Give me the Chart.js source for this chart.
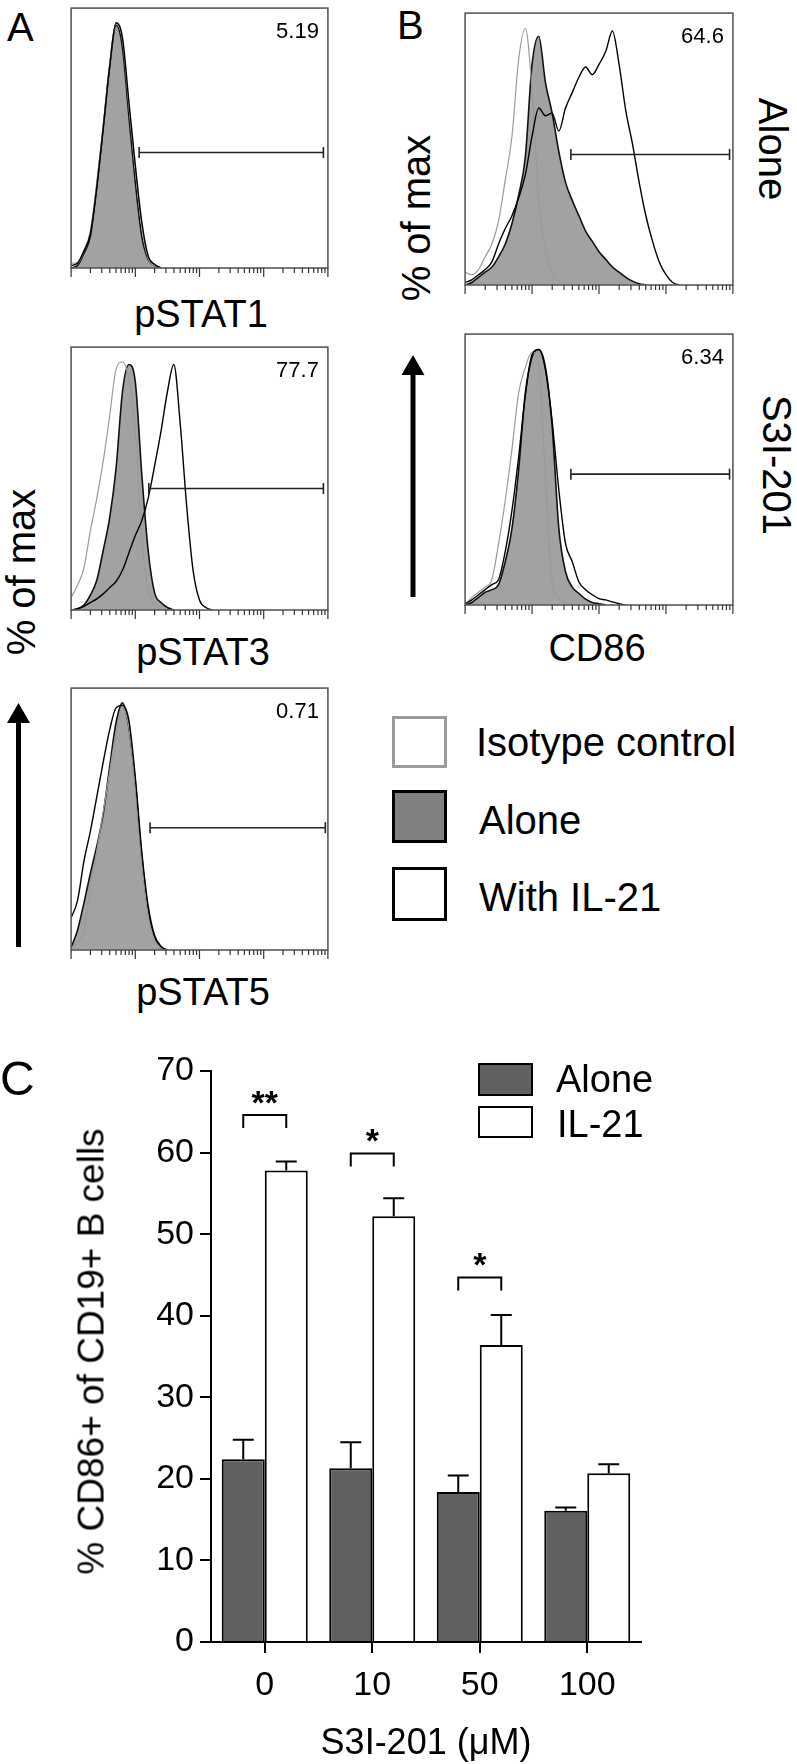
<!DOCTYPE html>
<html>
<head>
<meta charset="utf-8">
<script src="https://cdn.jsdelivr.net/npm/chart.js@4.4.1/dist/chart.umd.min.js"></script>
<style>
body { margin: 0; background: #fff; }
#fig { position: relative; width: 797px; height: 1764px; overflow: hidden; font-family: 'Liberation Sans', Arial, sans-serif; }
#fig canvas { position: absolute; }
.t { position: absolute; line-height: 1; white-space: nowrap; color: #000; }
.c { width: 400px; text-align: center; }
.sw { position: absolute; box-sizing: border-box; }
</style>
</head>
<body>
<div id="fig">
  <svg style="position:absolute;left:0;top:0" width="797" height="1764">
    <line x1="18.5" y1="947" x2="18.5" y2="718" stroke="#000" stroke-width="5"/>
    <polygon points="18.5,703 7,723 30,723" fill="#000"/>
    <line x1="413" y1="597" x2="413" y2="370" stroke="#000" stroke-width="5"/>
    <polygon points="413,355 401.5,375 424.5,375" fill="#000"/>
  </svg>

  <canvas id="a1"></canvas>
  <canvas id="a2"></canvas>
  <canvas id="a3"></canvas>
  <canvas id="b1"></canvas>
  <canvas id="b2"></canvas>
  <canvas id="barC" width="797" height="724" style="left:0;top:1040px"></canvas>

  <div class="t" style="left:7px;top:7px;font-size:40px">A</div>
  <div class="t" style="left:397px;top:5px;font-size:40px">B</div>
  <div class="t" style="left:0;top:1055px;font-size:48px">C</div>

  <div class="t c" style="left:1px;top:295px;font-size:38px">pSTAT1</div>
  <div class="t c" style="left:3px;top:633px;font-size:38px">pSTAT3</div>
  <div class="t c" style="left:3px;top:973px;font-size:38px">pSTAT5</div>
  <div class="t c" style="left:397px;top:629px;font-size:38px">CD86</div>

  <div class="t c" style="left:-179px;top:552px;font-size:40px;transform:rotate(-90deg)">% of max</div>
  <div class="t c" style="left:216px;top:198px;font-size:40px;transform:rotate(-90deg)">% of max</div>
  <div class="t c" style="left:573px;top:129px;font-size:40px;transform:rotate(90deg)">Alone</div>
  <div class="t c" style="left:577px;top:445px;font-size:40px;transform:rotate(90deg)">S3I-201</div>

  <div class="sw" style="left:392px;top:716px;width:55px;height:52px;border:3px solid #9a9a9a;background:#fff"></div>
  <div class="sw" style="left:392px;top:790px;width:55px;height:53px;border:3px solid #000;background:#808080"></div>
  <div class="sw" style="left:392px;top:867px;width:55px;height:54px;border:3px solid #000;background:#fff"></div>
  <div class="t" style="left:476px;top:722px;font-size:40px">Isotype control</div>
  <div class="t" style="left:479px;top:800px;font-size:40px">Alone</div>
  <div class="t" style="left:479px;top:877px;font-size:40px">With IL-21</div>

  <div class="sw" style="left:478px;top:1063px;width:55px;height:33px;border:2px solid #000;background:#606060"></div>
  <div class="sw" style="left:478px;top:1106px;width:55px;height:32px;border:2px solid #000;background:#fff"></div>
  <div class="t" style="left:556px;top:1060px;font-size:38px">Alone</div>
  <div class="t" style="left:557px;top:1105px;font-size:38px">IL-21</div>

  <div class="t" style="left:-209px;width:600px;text-align:center;top:1333px;font-size:37px;transform:rotate(-90deg)">% CD86+ of CD19+ B cells</div>
  <div class="t c" style="left:226px;top:1724px;font-size:36px">S3I-201 (μM)</div>
</div>

<script>
Chart.defaults.font.family = '"Liberation Sans", Arial, sans-serif';

// histogram bins, in log decades
const BINS = [0, 0.1, 0.2, 0.3, 0.4, 0.5, 0.6, 0.7, 0.8, 0.9, 1.0, 1.1, 1.2, 1.3, 1.4, 1.5, 1.6,
              1.7, 1.8, 1.9, 2.0, 2.1, 2.2, 2.3, 2.4, 2.5, 2.6, 2.7, 2.8, 2.9, 3.0, 3.1, 3.2];

// A: pSTAT1
const iso1   = [2, 2, 7, 15, 35, 58, 83, 100, 93, 66, 40, 17, 4, 1, 0];
const alone1 = [0, 1, 6, 13, 33, 57, 82, 99, 90, 62, 35, 13, 3.5, 1, 0];
const il21_1 = [1, 2, 7, 14, 33, 57, 82, 100, 94, 68, 42, 19, 5, 1.5, 0];
// A: pSTAT3
const iso3   = [5, 10, 17, 32, 45, 60, 78, 97, 100, 93, 72, 30, 8, 2, 0];
const alone3 = [0, 0.5, 2, 6, 12, 24, 37, 57, 88, 99, 92, 55, 24, 7, 3, 1, 0];
const il21_3 = [0, 0.5, 1.5, 3, 4.5, 6.5, 9, 11.5, 16, 23, 30, 36, 45, 58, 72, 88, 99, 75, 42, 16, 4, 1, 0];
// A: pSTAT5
const iso5   = [1, 3, 8, 25, 40, 56, 72, 88, 98, 90, 66, 36, 14, 4, 1, 0];
const alone5 = [1, 8, 19, 31, 42, 55, 74, 92, 100, 90, 68, 38, 16, 5, 1, 0];
const il21_5 = [13, 20, 36, 48, 62, 76, 89, 98, 99, 93, 70, 40, 18, 6, 1.5, 0];
// B: CD86, alone
const isoB1   = [5, 4, 6, 11, 16, 25, 41, 58, 88, 100, 76, 33, 13, 4, 1.5, 0];
const aloneB1 = [0, 1, 3, 5, 7, 11, 16, 24, 35, 50, 86, 97, 79, 67, 52, 40, 33, 27, 21, 17, 13, 10, 7, 5, 3, 1.5, 0.5, 0];
const il21B1  = [1, 2, 4, 6, 9, 16, 22, 27, 34, 43, 58, 69, 66, 67, 60, 69, 75, 81, 85, 82, 86, 91, 99, 86, 68, 55, 40, 27, 17, 9, 4, 1, 0];
// B: CD86, S3I-201
const isoB2   = [0, 3, 5, 7, 10, 24, 41, 61, 83, 93, 99, 94, 50, 9, 3, 1, 0];
const aloneB2 = [0, 1, 3, 5, 6, 8, 17, 30, 53, 83, 97, 100, 93, 70, 30, 13, 7, 4.5, 2.3, 1, 0.5, 0];
const il21B2  = [0.5, 2, 4, 6, 8, 10, 21, 37, 58, 82, 98, 100, 92, 72, 45, 24, 17, 9, 6, 4, 2.5, 2, 1.2, 0.5, 0];

// gates: a1, a2, a3, b1, b2
const gateText  = ['5.19', '77.7', '0.71', '64.6', '6.34'];
const gateFrom  = [1.06, 1.21, 1.23, 1.58, 1.58];
const gateTo    = [3.93, 3.93, 3.96, 3.95, 3.95];
const gateLevel = [47.1, 49, 49.5, 50.9, 51.2];

// C: bar chart
const doses     = ['0', '10', '50', '100'];
const aloneMean = [22.4, 21.3, 18.4, 16.1];
const aloneSem  = [2.4, 3.2, 2.0, 0.4];
const il21Mean  = [57.8, 52.2, 36.4, 20.7];
const il21Sem   = [1.1, 2.2, 3.7, 1.1];
const sigMarks  = ['**', '*', '*', ''];
const sigLevel  = [64.6, 59.9, 44.7, null];

const pts = vals => vals.map((v, i) => ({ x: BINS[i], y: v }));

// frame, log ticks and gate % for the flow plots
const flowFrame = {
  id: 'flowFrame',
  afterDraw(chart, args, opts) {
    const { ctx, chartArea: a, scales: { x } } = chart;
    ctx.save();
    ctx.strokeStyle = '#5a5a5a';
    ctx.lineWidth = 1.6;
    ctx.strokeRect(a.left, a.top, a.right - a.left, a.bottom - a.top);
    ctx.strokeStyle = '#333';
    ctx.lineWidth = 1.2;
    ctx.beginPath();
    for (let d = 0; d <= 4; d++) {
      const px = x.getPixelForValue(d);
      ctx.moveTo(px, a.bottom); ctx.lineTo(px, a.bottom + 9);
      if (d == 4) break;
      for (let k = 2; k < 10; k++) {
        const mx = x.getPixelForValue(d + Math.log10(k));
        ctx.moveTo(mx, a.bottom); ctx.lineTo(mx, a.bottom + 5);
      }
    }
    ctx.stroke();
    ctx.fillStyle = '#000';
    ctx.font = '22px "Liberation Sans", Arial, sans-serif';
    ctx.textAlign = 'right';
    ctx.fillText(opts.gate, a.right - 9, a.top + 30);
    ctx.restore();
  }
};

function makeHist(id, box, iso, alone, il21, g) {
  const cv = document.getElementById(id);
  cv.width = box[2] + 6;
  cv.height = box[3] + 16;
  cv.style.left = (box[0] - 3) + 'px';
  cv.style.top = (box[1] - 3) + 'px';
  return new Chart(cv, {
    type: 'line',
    data: {
      datasets: [
        { data: [{ x: gateFrom[g], y: gateLevel[g] }, { x: gateTo[g], y: gateLevel[g] }],
          borderColor: '#222', borderWidth: 1.6, pointStyle: 'line', rotation: 90,
          pointRadius: 5.5, pointBorderWidth: 1.6, pointBorderColor: '#222', fill: false },
        { data: pts(il21), borderColor: '#000', borderWidth: 1.4, pointRadius: 0, fill: false,
          cubicInterpolationMode: 'monotone' },
        { data: pts(iso), borderColor: '#9a9a9a', borderWidth: 1.2, pointRadius: 0, fill: false,
          cubicInterpolationMode: 'monotone' },
        { data: pts(alone), borderColor: '#111', borderWidth: 1.6, backgroundColor: '#a2a2a2',
          pointRadius: 0, fill: 'origin', cubicInterpolationMode: 'monotone' }
      ]
    },
    options: {
      responsive: false,
      animation: false,
      events: [],
      layout: { padding: { left: 3, right: 3, top: 3, bottom: 13 } },
      plugins: { legend: { display: false }, tooltip: { enabled: false }, flowFrame: { gate: gateText[g] } },
      scales: {
        x: { type: 'linear', min: 0, max: 4, display: false },
        y: { min: 0, max: 106, display: false }
      }
    },
    plugins: [flowFrame]
  });
}

makeHist('a1', [67, 4, 265, 264], iso1, alone1, il21_1, 0);
makeHist('a2', [67, 343, 265, 267], iso3, alone3, il21_3, 1);
makeHist('a3', [67, 684, 265, 266], iso5, alone5, il21_5, 2);
makeHist('b1', [461, 9, 276, 276], isoB1, aloneB1, il21B1, 3);
makeHist('b2', [461, 330, 276, 275], isoB2, aloneB2, il21B2, 4);

// upward SEM whiskers
const errorBars = {
  id: 'errorBars',
  afterDatasetsDraw(chart) {
    const { ctx, scales: { y } } = chart;
    ctx.save();
    ctx.strokeStyle = '#000';
    ctx.lineWidth = 2;
    chart.data.datasets.forEach((ds, i) => {
      chart.getDatasetMeta(i).data.forEach((bar, j) => {
        const top = y.getPixelForValue(ds.data[j] + ds.sem[j]);
        ctx.beginPath();
        ctx.moveTo(bar.x, bar.y); ctx.lineTo(bar.x, top);
        ctx.moveTo(bar.x - 10.5, top); ctx.lineTo(bar.x + 10.5, top);
        ctx.stroke();
      });
    });
    ctx.restore();
  }
};

// significance brackets
const sigBrackets = {
  id: 'sigBrackets',
  afterDatasetsDraw(chart) {
    const { ctx, scales: { y } } = chart;
    const a = chart.getDatasetMeta(0).data, b = chart.getDatasetMeta(1).data;
    ctx.save();
    ctx.strokeStyle = '#000';
    ctx.fillStyle = '#000';
    ctx.lineWidth = 2;
    ctx.font = 'bold 34px "Liberation Sans", Arial, sans-serif';
    ctx.textAlign = 'center';
    sigLevel.forEach((lv, j) => {
      if (lv == null) return;
      const yt = y.getPixelForValue(lv), x1 = a[j].x, x2 = b[j].x;
      ctx.beginPath();
      ctx.moveTo(x1, yt + 13); ctx.lineTo(x1, yt); ctx.lineTo(x2, yt); ctx.lineTo(x2, yt + 13);
      ctx.stroke();
      ctx.fillText(sigMarks[j], (x1 + x2) / 2, yt - 1);
    });
    ctx.restore();
  }
};

new Chart(document.getElementById('barC'), {
  type: 'bar',
  data: {
    labels: doses,
    datasets: [
      { label: 'Alone', data: aloneMean, sem: aloneSem, backgroundColor: '#606060', borderColor: '#000',
        borderWidth: 2, categoryPercentage: 0.8, barPercentage: 1.0 },
      { label: 'IL-21', data: il21Mean, sem: il21Sem, backgroundColor: '#fff', borderColor: '#000',
        borderWidth: 2, categoryPercentage: 0.8, barPercentage: 1.0 }
    ]
  },
  options: {
    responsive: false,
    animation: false,
    events: [],
    layout: { padding: { left: 0, right: 156, top: 31, bottom: 0 } },
    plugins: { legend: { display: false }, tooltip: { enabled: false } },
    scales: {
      x: {
        grid: { drawOnChartArea: false, offset: false, tickLength: 11, lineWidth: 2, color: '#000' },
        border: { color: '#000', width: 2 },
        ticks: { color: '#000', font: { size: 34 }, padding: 12 },
        afterFit: s => { s.height = 122; }
      },
      y: {
        min: 0, max: 70,
        ticks: { stepSize: 10, color: '#000', font: { size: 34 }, padding: 6 },
        grid: { drawOnChartArea: false, tickLength: 11, lineWidth: 2, color: '#000' },
        border: { color: '#000', width: 2 },
        afterFit: s => { s.width = 211; }
      }
    }
  },
  plugins: [errorBars, sigBrackets]
});
</script>
</body>
</html>
